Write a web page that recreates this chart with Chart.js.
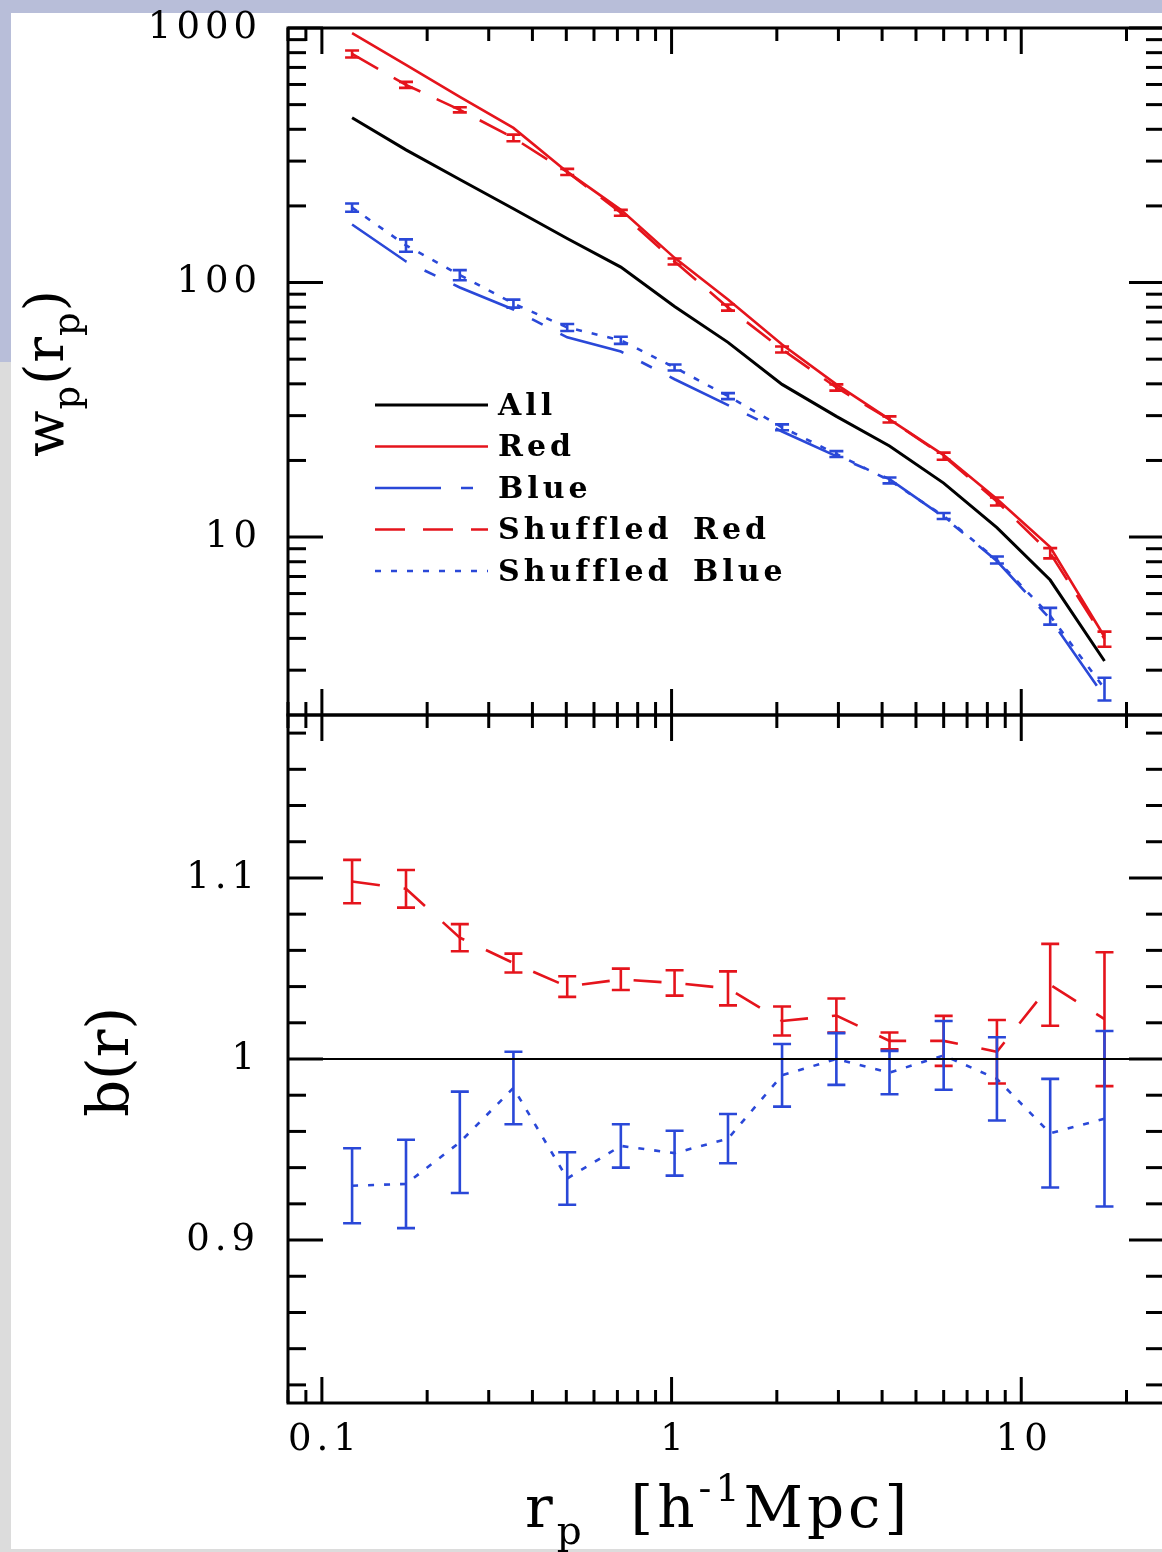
<!DOCTYPE html>
<html>
<head>
<meta charset="utf-8">
<script src="https://cdn.jsdelivr.net/npm/chart.js@4.4.1/dist/chart.umd.min.js"></script>
<style>
  html, body { margin: 0; padding: 0; background: #fff; }
  #page { position: relative; width: 1162px; height: 1552px; overflow: hidden; background: #fff; }
  .band { position: absolute; }
  #topBand { left: 0; top: 0; width: 1162px; height: 13px; background: #b8bed9; }
  #leftBandA { left: 0; top: 0; width: 11px; height: 362px; background: #b8bed9; }
  #leftBandB { left: 0; top: 362px; width: 11px; height: 1190px; background: #dcdcdc; }
  #bottomBand { left: 0; top: 1549px; width: 1162px; height: 3px; background: #dcdcdc; }
  canvas { position: absolute; left: 0; top: 0; }
</style>
</head>
<body>
<div id="page">
  <div class="band" id="topBand"></div>
  <div class="band" id="leftBandA"></div>
  <div class="band" id="leftBandB"></div>
  <div class="band" id="bottomBand"></div>
  <canvas id="wpChart" width="1170" height="1552"></canvas>
  <canvas id="bChart" width="1170" height="1552"></canvas>
</div>
<script>
// projected separation bins, h^-1 Mpc
const rp = [0.122, 0.174, 0.248, 0.353, 0.503, 0.716, 1.02, 1.45, 2.07, 2.96, 4.20, 6.00, 8.52, 12.1, 17.3];

// top panel: w_p(r_p)
const wpAll = [444, 332, 254, 195, 149, 115, 80.5, 58.2, 39.8, 29.8, 22.8, 16.3, 10.9, 6.78, 3.26];
const wpRed = [955, 716, 536, 405, 272, 193, 125, 85.8, 57.1, 39.8, 29.0, 21.0, 14.1, 9.13, 4.06];
const wpBlue = [169, 121, 95.6, 78.4, 60.9, 53.6, 41.7, 33.0, 26.0, 20.8, 16.9, 12.0, 8.05, 4.77, 2.36];
const wpShufRed = [791, 598, 477, 370, 272, 188, 121, 79.8, 54.6, 38.7, 29.0, 20.8, 13.8, 8.65, 3.98];
const wpShufRedErr = [25, 16, 11, 11, 7.5, 5, 3.3, 2.2, 1.5, 1.1, 0.8, 0.66, 0.5, 0.4, 0.27];
const wpShufBlue = [197, 140, 107, 82.7, 66.6, 59.3, 46.4, 35.8, 27.0, 21.2, 16.7, 12.1, 8.13, 4.90, 2.54];
const wpShufBlueErr = [7.3, 7.8, 4.9, 3.0, 2.1, 1.9, 1.25, 0.97, 0.73, 0.57, 0.45, 0.33, 0.26, 0.37, 0.26];

// bottom panel: b(r)
const bRed = [1.098, 1.094, 1.067, 1.053, 1.040, 1.044, 1.042, 1.039, 1.021, 1.024, 1.010, 1.010, 1.004, 1.041, 1.022];
const bRedErr = [0.012, 0.0104, 0.0075, 0.0052, 0.0057, 0.0059, 0.007, 0.0094, 0.008, 0.0094, 0.0046, 0.0138, 0.0175, 0.0226, 0.037];
const bBlue = [0.930, 0.931, 0.954, 0.984, 0.934, 0.952, 0.948, 0.956, 0.991, 1.000, 0.9925, 1.002, 0.989, 0.959, 0.967];
const bBlueErr = [0.0207, 0.0244, 0.028, 0.02, 0.0145, 0.012, 0.0124, 0.0136, 0.0173, 0.0143, 0.012, 0.019, 0.023, 0.030, 0.0485];
const unity = 1;

// axis ranges and ticks
const xMin = 0.08, xMax = 25.6;
const wpMin = 2, wpMax = 1000;
const bMin = 0.81, bMax = 1.19;
const xMajorTicks = [0.1, 1, 10];
const xMinorTicks = [0.08, 0.09, 0.2, 0.3, 0.4, 0.5, 0.6, 0.7, 0.8, 0.9, 2, 3, 4, 5, 6, 7, 8, 9, 20];
const wpMajorTicks = [10, 100, 1000];
const wpMinorTicks = [3, 4, 5, 6, 7, 8, 9, 20, 30, 40, 50, 60, 70, 80, 90, 200, 300, 400, 500, 600, 700, 800, 900];
const bMajorTicks = [0.9, 1.0, 1.1];
const bMinorTicks = [0.82, 0.84, 0.86, 0.88, 0.92, 0.94, 0.96, 0.98, 1.02, 1.04, 1.06, 1.08, 1.12, 1.14, 1.16, 1.18];

const RED = '#e5141c';
const BLUE = '#2a48d8';
const SERIF = '"DejaVu Serif"';

const pts = vals => vals.map((v, i) => ({ x: rp[i], y: v }));

// frame with inward ticks on all four sides
const frameTicks = {
  id: 'frameTicks',
  beforeDraw(chart) { chart.ctx.letterSpacing = '5px'; },
  afterDraw(chart, args, opts) {
    const { ctx, chartArea: a, scales: { x, y } } = chart;
    ctx.save();
    ctx.strokeStyle = '#000';
    ctx.lineWidth = 3;
    ctx.setLineDash([]);
    const seg = (x1, y1, x2, y2) => { ctx.beginPath(); ctx.moveTo(x1, y1); ctx.lineTo(x2, y2); ctx.stroke(); };
    if (opts.unity) {
      ctx.lineWidth = 2;
      const py = y.getPixelForValue(opts.unity);
      seg(a.left, py, a.right, py);
      ctx.lineWidth = 3;
    }
    ctx.strokeRect(a.left, a.top, a.right - a.left, a.bottom - a.top);
    const xt = (vals, len) => vals.forEach(v => {
      const px = x.getPixelForValue(v);
      seg(px, a.top, px, a.top + len);
      seg(px, a.bottom, px, a.bottom - len);
    });
    const yt = (vals, len) => vals.forEach(v => {
      const py = y.getPixelForValue(v);
      seg(a.left, py, a.left + len, py);
      seg(a.right, py, a.right - len, py);
    });
    xt(xMinorTicks, 13); xt(xMajorTicks, 26);
    yt(opts.minor, 18); yt(opts.major, 35);
    ctx.restore();
  }
};

// vertical error bars with caps
const errorBars = {
  id: 'errorBars',
  afterDatasetsDraw(chart, args, opts) {
    const { ctx, scales: { x, y } } = chart;
    ctx.save();
    ctx.setLineDash([]);
    chart.data.datasets.forEach(ds => {
      if (!ds.errors) return;
      ctx.strokeStyle = ds.borderColor;
      ctx.lineWidth = 2.6;
      ds.data.forEach((p, i) => {
        const px = x.getPixelForValue(p.x);
        const lo = y.getPixelForValue(p.y - ds.errors[i]);
        const hi = y.getPixelForValue(p.y + ds.errors[i]);
        ctx.beginPath();
        ctx.moveTo(px, lo); ctx.lineTo(px, hi);
        ctx.moveTo(px - opts.cap, lo); ctx.lineTo(px + opts.cap, lo);
        ctx.moveTo(px - opts.cap, hi); ctx.lineTo(px + opts.cap, hi);
        ctx.stroke();
      });
    });
    ctx.restore();
  }
};

// legend inside the upper panel
const innerLegend = {
  id: 'innerLegend',
  afterDraw(chart, args, opts) {
    if (!opts.show) return;
    const ctx = chart.ctx;
    ctx.save();
    ctx.letterSpacing = '4px';
    ctx.wordSpacing = '6px';
    ctx.font = 'bold 30px ' + SERIF;
    ctx.textBaseline = 'middle';
    ctx.fillStyle = '#000';
    chart.data.datasets.forEach((ds, i) => {
      const yy = opts.y0 + i * opts.step;
      ctx.strokeStyle = ds.borderColor;
      ctx.lineWidth = ds.borderWidth;
      ctx.setLineDash(ds.borderDash || []);
      ctx.beginPath();
      ctx.moveTo(opts.x0, yy); ctx.lineTo(opts.x1, yy);
      ctx.stroke();
      ctx.fillText(ds.label, opts.tx, yy + 2);
    });
    ctx.restore();
  }
};

// axis titles with sub/superscripts
function drawRich(ctx, pieces, startX, baseY, rotate, size, spacing) {
  const sizes = { main: [size, 0], sub: [Math.round(size * 0.68), Math.round(size * 0.3)], sup: [Math.round(size * 0.66), -Math.round(size * 0.45)] };
  ctx.save();
  ctx.letterSpacing = spacing + 'px';
  ctx.fillStyle = '#000';
  ctx.textBaseline = 'alphabetic';
  let w = 0;
  const items = pieces.map(p => {
    ctx.font = sizes[p.k][0] + 'px ' + SERIF;
    const it = { t: p.t, font: ctx.font, x: w, dy: sizes[p.k][1] };
    w += ctx.measureText(p.t).width;
    return it;
  });
  if (rotate) {
    ctx.translate(startX, baseY);
    ctx.rotate(-Math.PI / 2);
    items.forEach(it => { ctx.font = it.font; ctx.fillText(it.t, it.x - w / 2, it.dy); });
  } else {
    items.forEach(it => { ctx.font = it.font; ctx.fillText(it.t, startX + it.x, baseY + it.dy); });
  }
  ctx.restore();
}

const titles = {
  id: 'titles',
  afterDraw(chart, args, opts) {
    opts.list.forEach(t => drawRich(chart.ctx, t.pieces, t.x, t.y, t.rotate, t.size, t.spacing));
  }
};

function axisCommon(type, min, max, majors, fmt, showLabels, padding, horizontal, extent) {
  return {
    type, min, max,
    position: horizontal ? 'bottom' : 'left',
    afterFit: s => {
      if (horizontal) s.height = extent; else s.width = extent;
      s.paddingTop = 0; s.paddingBottom = 0; s.paddingLeft = 0; s.paddingRight = 0;
    },
    afterBuildTicks: s => { s.ticks = majors.map(v => ({ value: v })); },
    grid: { display: false, drawTicks: false },
    border: { display: false },
    ticks: {
      display: showLabels, autoSkip: false, maxRotation: 0, padding,
      labelOffset: horizontal ? 3 : 0,
      color: '#000', font: { family: 'DejaVu Serif', size: 37 },
      callback: fmt
    }
  };
}

const baseOpts = {
  responsive: false,
  maintainAspectRatio: false,
  animation: false,
  devicePixelRatio: 1,
  events: [],
};

new Chart(document.getElementById('wpChart'), {
  type: 'line',
  data: {
    datasets: [
      { label: 'All', data: pts(wpAll), borderColor: '#000', borderWidth: 3, pointRadius: 0, tension: 0 },
      { label: 'Red', data: pts(wpRed), borderColor: RED, borderWidth: 2.6, pointRadius: 0 },
      { label: 'Blue', data: pts(wpBlue), borderColor: BLUE, borderWidth: 2.6, borderDash: [66, 20, 12, 20], pointRadius: 0 },
      { label: 'Shuffled Red', data: pts(wpShufRed), errors: wpShufRedErr, borderColor: RED, borderWidth: 2.6, borderDash: [30, 18], pointRadius: 0 },
      { label: 'Shuffled Blue', data: pts(wpShufBlue), errors: wpShufBlueErr, borderColor: BLUE, borderWidth: 2.6, borderDash: [6, 10], pointRadius: 0 }
    ]
  },
  options: {
    ...baseOpts,
    layout: { padding: { left: 18, top: 28, right: 6, bottom: 1552 - 715 } },
    scales: {
      x: axisCommon('logarithmic', xMin, xMax, xMajorTicks, v => String(v), false, 0, true, 0),
      y: axisCommon('logarithmic', wpMin, wpMax, wpMajorTicks, v => String(v), true, 26, false, 270)
    },
    plugins: {
      legend: { display: false },
      tooltip: { enabled: false },
      frameTicks: { major: wpMajorTicks, minor: wpMinorTicks },
      errorBars: { cap: 7 },
      innerLegend: { show: true, x0: 375, x1: 488, tx: 498, y0: 405, step: 41.5 },
      titles: { list: [
        { pieces: [{ t: 'w', k: 'main' }, { t: 'p', k: 'sub' }, { t: '(r', k: 'main' }, { t: 'p', k: 'sub' }, { t: ')', k: 'main' }], x: 63, y: 373, rotate: true, size: 54, spacing: 1 }
      ] }
    }
  },
  plugins: [frameTicks, errorBars, innerLegend, titles]
});

new Chart(document.getElementById('bChart'), {
  type: 'line',
  data: {
    datasets: [
      { label: 'Red', data: pts(bRed), errors: bRedErr, borderColor: RED, borderWidth: 2.6, borderDash: [28, 24], pointRadius: 0 },
      { label: 'Blue', data: pts(bBlue), errors: bBlueErr, borderColor: BLUE, borderWidth: 2.6, borderDash: [6, 10], pointRadius: 0 }
    ]
  },
  options: {
    ...baseOpts,
    layout: { padding: { left: 18, top: 715, right: 6, bottom: 1552 - 1403 - 100 } },
    scales: {
      x: axisCommon('logarithmic', xMin, xMax, xMajorTicks, v => String(v), true, 15, true, 100),
      y: axisCommon('linear', bMin, bMax, bMajorTicks, v => String(v), true, 28, false, 270)
    },
    plugins: {
      legend: { display: false },
      tooltip: { enabled: false },
      frameTicks: { major: bMajorTicks, minor: bMinorTicks, unity },
      errorBars: { cap: 9 },
      innerLegend: { show: false },
      titles: { list: [
        { pieces: [{ t: 'b(r)', k: 'main' }], x: 128, y: 1062, rotate: true, size: 58, spacing: 0 },
        { pieces: [{ t: 'r', k: 'main' }, { t: 'p', k: 'sub' }, { t: '  [h', k: 'main' }, { t: '-1', k: 'sup' }, { t: 'Mpc]', k: 'main' }], x: 525, y: 1527, rotate: false, size: 58, spacing: 4 }
      ] }
    }
  },
  plugins: [frameTicks, errorBars, innerLegend, titles]
});
</script>
</body>
</html>
